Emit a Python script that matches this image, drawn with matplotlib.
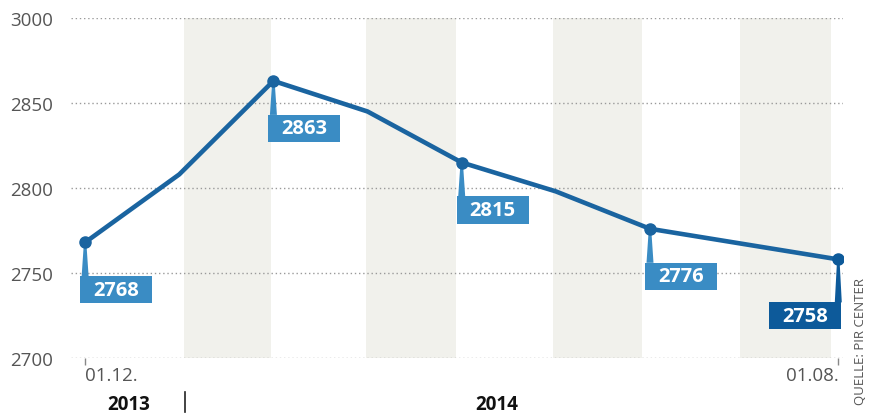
import numpy as np
import matplotlib
matplotlib.use("Agg")
import matplotlib.pyplot as plt
from matplotlib.patches import Polygon, Rectangle

# monthly values, 01.12.2013 .. 01.08.2014
months = ["01.12.", "01.01.", "01.02.", "01.03.", "01.04.", "01.05.", "01.06.", "01.07.", "01.08."]
values = [2768, 2808, 2863, 2845, 2815, 2798, 2776, 2767, 2758]
labelled = [0, 2, 4, 6, 8]          # points that get a value box
ytick_vals = [2700, 2750, 2800, 2850, 2900]
ytick_text = ["2700", "2750", "2800", "2850", "3000"]   # axis is broken at the top
bands = [(1.05, 1.97), (2.98, 3.94), (4.97, 5.92), (6.96, 7.92)]

line_col = "#1a64a0"
box_col = "#3a8cc4"
last_col = "#0d5a9a"
band_col = "#f1f1ec"

plt.rcParams['font.family'] = ['Open Sans', 'DejaVu Sans']

fig = plt.figure(figsize=(8.77, 4.14), dpi=100)
W, H = 877, 414
ax = fig.add_axes([71 / W, 55 / H, (843 - 71) / W, (359 - 19) / H])
x = np.arange(len(values))
ax.set_xlim(-0.15, 8.05)
ax.set_ylim(2700, 2900)

# px per data unit
px_x = (843 - 71) / 8.2
px_y = (359 - 19) / 200.0

for a, b in bands:
    ax.axvspan(a, b, color=band_col, zorder=0, lw=0)

for v in ytick_vals:
    ax.axhline(v, color="#9a9a9a", lw=1.0, ls=(0, (1, 2)), zorder=1)

ax.plot(x, values, color=line_col, lw=3.3, zorder=3, solid_joinstyle="round")

bw, bh = 72 / px_x, 27 / px_y
for i in labelled:
    xi, yi = x[i], values[i]
    last = i == len(values) - 1
    col = last_col if last else box_col
    ax.plot(xi, yi, "o", ms=8, color=last_col if last else line_col, zorder=4)
    drop = (43 if last else 34) / px_y
    w_top = 1.2 / px_x
    w_bot = 3.5 / px_x
    stem = Polygon([(xi - w_top, yi), (xi + w_top, yi),
                    (xi + w_bot, yi - drop), (xi - w_bot, yi - drop)],
                   closed=True, color=col, zorder=3, lw=0)
    ax.add_patch(stem)
    left = xi - bw + 3 / px_x if last else xi - 5 / px_x
    ax.add_patch(Rectangle((left, yi - drop - bh), bw, bh, color=col, lw=0, zorder=4,
                           clip_on=False))
    ax.text(left + bw / 2, yi - drop - bh / 2, str(yi), ha="center", va="center",
            color="white", fontsize=14.5, fontweight="bold", zorder=5)

ax.set_yticks(ytick_vals)
ax.set_yticklabels(ytick_text)
ax.set_xticks([0, 8])
ax.set_xticklabels([months[0], months[-1]])
ax.tick_params(axis="y", length=0, labelsize=13.5, labelcolor="#555555", pad=13)
ax.tick_params(axis="x", length=5, width=1, color="#888888", labelsize=13.5,
               labelcolor="#555555", pad=1)
xl = ax.get_xticklabels()
xl[0].set_ha("left")
xl[-1].set_ha("right")
xl[-1].set_x(8 + 8 / px_x)
for s in ax.spines.values():
    s.set_visible(False)

# year labels
fig.text(129 / W, 1 - 405 / H, "2013", ha="center", va="center",
         fontsize=13.5, fontweight="bold", color="#111111")
fig.text(497 / W, 1 - 405 / H, "2014", ha="center", va="center",
         fontsize=13.5, fontweight="bold", color="#111111")
fig.add_artist(plt.Line2D([185 / W, 185 / W], [1 - 393 / H, 1 - 413 / H],
                          color="#222222", lw=1.2))

fig.text(860 / W, 1 - 342 / H, "QUELLE: PIR CENTER", rotation=90, ha="center",
         va="center", fontsize=9.5, color="#555555")

fig.savefig("out.png", dpi=100)
